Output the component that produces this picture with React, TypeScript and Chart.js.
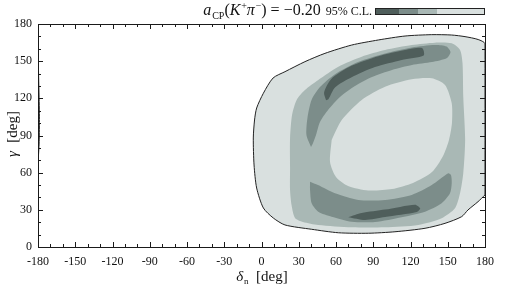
import React, { useEffect, useRef } from "react";
import { Chart, registerables } from "chart.js";

Chart.register(...registerables);

const FONT = "'Liberation Serif', 'DejaVu Serif', serif";

// axis ticks (degrees)
const xTickValues = [-180, -150, -120, -90, -60, -30, 0, 30, 60, 90, 120, 150, 180];
const yTickValues = [0, 30, 60, 90, 120, 150, 180];

type P = [number, number]; // [delta_n, gamma] in degrees

// 95% C.L. (outermost, lightest) region
const outerContour: P[] = [
  [180, 42], [174.4, 36.6], [166.3, 29.9], [161.2, 24.5], [147.8, 19.1], [131.7, 15.1],
  [107.5, 12.3], [86, 11.1], [61.9, 11.5], [40.4, 14.3], [18.9, 17.8], [9.5, 23.4],
  [1.5, 31.5], [-3.9, 47.6], [-6.0, 66.2], [-6.6, 88], [-5.6, 102.5], [-3.9, 112.2],
  [1.5, 124.1], [9.3, 136.4], [18.9, 141.5], [35, 149.6], [51.1, 156.3], [72.6, 163],
  [94.1, 167.1], [115.6, 170.3], [137.1, 171.4], [153.2, 171.1], [163.9, 169.8],
  [174.4, 167.5], [180, 163.9], [180, 42],
];
// wrap-around piece of the same region at delta_n = -180
const wrapSliver: P[] = [
  [-180, 68], [-179, 85], [-178.8, 105], [-179.3, 130], [-180, 156], [-180, 68],
];
// second level
const level2Contour: P[] = [
  [23, 63.8], [23, 88], [24.6, 106.5], [28.3, 118.7], [35, 126.7], [45.7, 134.8],
  [61.9, 145.5], [80.7, 153.6], [99.5, 159], [121, 163], [139.7, 164.9], [153.2, 164.4],
  [159.9, 159], [161.9, 148.3], [162.5, 121.3], [164, 86.4], [162.5, 59.5], [159.9, 43.3],
  [155.8, 31.2], [145.1, 23.2], [126.3, 17.8], [99.5, 15.9], [72.6, 15.9], [45.7, 17.8],
  [33.4, 20.2], [27, 23.4], [24.2, 33.9], [23, 46], [23, 63.8],
];
// inner hole (back to lightest level)
const innerCore: P[] = [
  [56.5, 86.4], [64.6, 102.5], [80.7, 118.7], [99.5, 129.4], [121, 135.4], [137.1, 136.2],
  [147.8, 130.8], [153.2, 116], [153.4, 100.1], [151, 86.4], [146.2, 73.5], [137.3, 60.5],
  [122, 51.7], [105.1, 46.8], [86, 45.6], [69.7, 49.2], [60, 56.5], [55.2, 68.6], [56.5, 86.4],
];
// third level: upper and lower arcs
const upperBand: P[] = [
  [39.9, 80.7], [36.2, 90.4], [37, 104.1], [40.3, 118.7], [47.1, 129.1], [59.2, 139.5],
  [77.7, 149.3], [99.5, 156.2], [121.2, 161], [139.7, 163], [149, 161.8], [152.2, 157.4],
  [149.4, 152.6], [137.3, 149.3], [121.2, 146.9], [105.1, 142.9], [89, 137.2], [75.3, 130],
  [63.2, 121.1], [53.6, 110.6], [47.1, 100.9], [43.9, 90.4], [41.5, 83.9], [39.9, 80.7],
];
const lowerBand: P[] = [
  [39.1, 52.7], [45.5, 50], [59.2, 43.3], [78, 37.9], [99.5, 37.9], [121, 42], [137.1, 50],
  [150.4, 59.5], [152.6, 58.1], [153.2, 51.4], [151.8, 43.3], [145.1, 35.3], [131.7, 28.5],
  [112.9, 24], [91.4, 20.2], [72.6, 20.4], [56.5, 24.5], [45.7, 28.5], [40.4, 35.3],
  [39.1, 46], [39.1, 52.7],
];
// innermost (darkest) level
const upperPeak: P[] = [
  [52, 118.5], [50.4, 124.8], [56, 135.5], [72.4, 146.2], [94.1, 154], [115.6, 159],
  [129.3, 160.6], [130.6, 154.6], [112.9, 151], [91.4, 145.2], [72.6, 137], [59.2, 128.8],
  [54, 119.5], [52, 118.5],
];
const lowerPeak: P[] = [
  [69.9, 24], [80.7, 27.4], [99.5, 30.2], [123.6, 34.2], [127.8, 31.2], [125, 28.2],
  [99.5, 24.2], [83.4, 21.8], [69.9, 24],
];

const levelColors = ["#4f5e5b", "#7c8d8a", "#a9b8b5", "#d9e0df"]; // darkest -> lightest
const legendLabel = "95% C.L.";

type Part = { t: string; it?: boolean; sub?: boolean; sup?: boolean };
const titleParts: Part[] = [
  { t: "a", it: true }, { t: "CP", sub: true }, { t: "(" }, { t: "K", it: true },
  { t: "+", sup: true }, { t: "π", it: true }, { t: "−", sup: true }, { t: ") = −0.20" },
];
const xTitleParts: Part[] = [{ t: "δ", it: true }, { t: "n", sub: true }, { t: "  [deg]" }];
const yTitleParts: Part[] = [{ t: "γ", it: true }, { t: "  [deg]" }];

function drawRich(ctx: CanvasRenderingContext2D, parts: Part[], cx: number, y: number, size: number) {
  const small = Math.round(size * 0.62);
  const fontOf = (p: Part) =>
    `${p.it ? "italic " : ""}${p.sub || p.sup ? small : size}px ${FONT}`;
  let total = 0;
  const widths = parts.map((p) => {
    ctx.font = fontOf(p);
    const w = ctx.measureText(p.t).width + (p.it ? 0.8 : 0);
    total += w;
    return w;
  });
  let x = cx - total / 2;
  ctx.textAlign = "left";
  ctx.textBaseline = "alphabetic";
  parts.forEach((p, i) => {
    ctx.font = fontOf(p);
    const dy = p.sub ? size * 0.22 : p.sup ? -size * 0.38 : 0;
    ctx.fillText(p.t, x, y + dy);
    x += widths[i];
  });
}

const decorPlugin = {
  id: "decor",
  afterDraw(chart: any) {
    const ctx: CanvasRenderingContext2D = chart.ctx;
    const { left, right, top, bottom } = chart.chartArea;
    const xs = chart.scales.x;
    const ys = chart.scales.y;
    ctx.save();
    ctx.strokeStyle = "#1a1a1a";
    ctx.lineWidth = 1;
    ctx.beginPath();
    for (let v = -180; v <= 180; v += 10) {
      const px = Math.round(xs.getPixelForValue(v)) + 0.5;
      const len = v % 30 === 0 ? 5 : 3;
      ctx.moveTo(px, bottom); ctx.lineTo(px, bottom - len);
      ctx.moveTo(px, top); ctx.lineTo(px, top + len);
    }
    for (let v = 0; v <= 180; v += 10) {
      const py = Math.round(ys.getPixelForValue(v)) + 0.5;
      const len = v % 30 === 0 ? 5 : 3;
      ctx.moveTo(left, py); ctx.lineTo(left + len, py);
      ctx.moveTo(right, py); ctx.lineTo(right - len, py);
    }
    ctx.stroke();
    ctx.strokeRect(left + 0.5, top + 0.5, right - left, bottom - top);

    ctx.fillStyle = "#111";
    // title
    drawRich(ctx, titleParts, 262, 15, 16);
    // x title
    drawRich(ctx, xTitleParts, 262, 281, 15);
    // y title
    ctx.save();
    ctx.translate(17, 134);
    ctx.rotate(-Math.PI / 2);
    drawRich(ctx, yTitleParts, 0, 0, 15);
    ctx.restore();

    // legend
    ctx.font = `12px ${FONT}`;
    ctx.textAlign = "right";
    ctx.textBaseline = "alphabetic";
    ctx.fillText(legendLabel, 372, 14.5);
    const bx = [375, 399, 418, 437, 484];
    for (let i = 0; i < 4; i++) {
      ctx.fillStyle = levelColors[i];
      ctx.fillRect(bx[i], 8, bx[i + 1] - bx[i], 7);
    }
    ctx.strokeStyle = "#222";
    ctx.strokeRect(bx[0] + 0.5, 8.5, bx[4] - bx[0], 6);
    ctx.restore();
  },
};

const toXY = (pts: P[]) => pts.map(([x, y]) => ({ x, y }));

export default function App() {
  const ref = useRef<HTMLCanvasElement>(null);
  useEffect(() => {
    if (!ref.current) return;
    const layers = [
      { d: outerContour, c: levelColors[3], b: "#222", w: 1 },
      { d: wrapSliver, c: levelColors[3], b: "#333", w: 1 },
      { d: level2Contour, c: levelColors[2] },
      { d: innerCore, c: levelColors[3] },
      { d: upperBand, c: levelColors[1] },
      { d: lowerBand, c: levelColors[1] },
      { d: upperPeak, c: levelColors[0] },
      { d: lowerPeak, c: levelColors[0] },
    ];
    const datasets = layers.map((l: any, i) => ({
      data: toXY(l.d),
      showLine: true,
      fill: "shape",
      backgroundColor: l.c,
      borderColor: l.b || "rgba(0,0,0,0)",
      borderWidth: l.w || 1,
      pointRadius: 0,
      pointHoverRadius: 0,
      tension: 0.25,
      order: layers.length - i,
    }));
    const chart = new Chart(ref.current, {
      type: "scatter",
      data: { datasets: datasets as any },
      options: {
        animation: false,
        responsive: false,
        events: [],
        layout: { padding: { left: 0, right: 25, top: 24, bottom: 0 } },
        plugins: { legend: { display: false }, tooltip: { enabled: false }, title: { display: false } },
        scales: {
          x: {
            type: "linear",
            min: -180,
            max: 180,
            grid: { display: false, drawTicks: false },
            border: { display: false },
            afterBuildTicks: (s: any) => { s.ticks = xTickValues.map((v) => ({ value: v })); },
            afterFit: (s: any) => { s.height = 39; },
            ticks: {
              autoSkip: false,
              maxRotation: 0,
              padding: 8,
              color: "#111",
              font: { family: FONT, size: 12 },
              callback: (v: any) => String(v),
            },
          },
          y: {
            type: "linear",
            min: 0,
            max: 180,
            grid: { display: false, drawTicks: false },
            border: { display: false },
            afterBuildTicks: (s: any) => { s.ticks = yTickValues.map((v) => ({ value: v })); },
            afterFit: (s: any) => { s.width = 38; },
            ticks: {
              autoSkip: false,
              padding: 6,
              color: "#111",
              font: { family: FONT, size: 12 },
              callback: (v: any) => String(v),
            },
          },
        },
      },
      plugins: [decorPlugin],
    });
    return () => chart.destroy();
  }, []);
  return (
    <div style={{ position: "fixed", left: 0, top: 0, width: 510, height: 286, background: "#fff" }}>
      <canvas ref={ref} width={510} height={286} style={{ display: "block" }} />
    </div>
  );
}
